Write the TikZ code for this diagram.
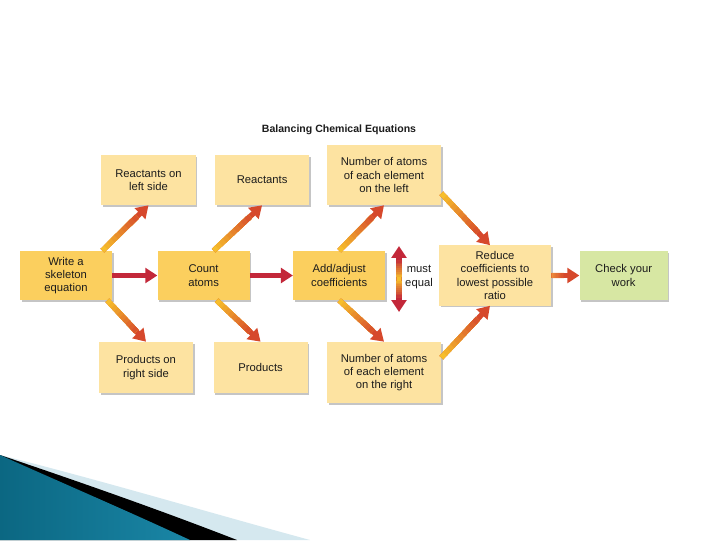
\documentclass[tikz,border=0pt]{standalone}
\usepackage{fontspec}
\setmainfont{Liberation Sans}
\usetikzlibrary{positioning, calc, arrows.meta, shadows}

\definecolor{boxlight}{HTML}{FDE3A1}
\definecolor{boxdark}{HTML}{FBCF5E}
\definecolor{boxgreen}{HTML}{D7E7A3}
\definecolor{arrowred}{HTML}{C3283A}
\definecolor{gyellow}{HTML}{F6BE2C}
\definecolor{gred}{HTML}{D6482C}
\definecolor{gorange}{HTML}{EC8A3A}
\definecolor{tealdark}{HTML}{0B6782}
\definecolor{teallight}{HTML}{48AECD}
\definecolor{tealmid}{HTML}{1A86A6}
\definecolor{paleblue}{HTML}{D5E8EF}
\definecolor{inktext}{HTML}{1C1C1C}

% gradient arrow: [fraction]{from}{to}{start colour}{end colour}
\newcommand{\gradarrow}[5][0.75]{%
  \draw[garrow, #5] (#2) -- (#3);
  \foreach \i in {0,...,9}{%
    \pgfmathtruncatemacro{\pct}{100*\i/10}
    \pgfmathsetmacro{\fa}{\i*#1/10}
    \draw[gline, #5!\pct!#4] ($(#2)!\fa!(#3)$) -- ($(#2)!#1!(#3)$);
  }%
}

\begin{document}
\begin{tikzpicture}[x=0.025cm, y=-0.025cm]
    % Define the styles
    \tikzset{
        box/.style={rectangle, fill=boxlight, text=inktext, align=center, inner sep=1pt,
            minimum width=2.35cm, minimum height=1.25cm, font=\fontsize{8}{9.5}\selectfont,
            drop shadow={shadow xshift=1.2pt, shadow yshift=-1.2pt, fill=black!45, opacity=.5}},
        mainbox/.style={box, fill=boxdark, minimum width=2.3cm, minimum height=1.225cm},
        bigbox/.style={box, minimum width=2.85cm, minimum height=1.5cm},
        garrow/.style={line width=3.8pt, -{Triangle[length=8.5pt, width=10.5pt]}},
        gline/.style={line width=3.8pt},
        redarrow/.style={draw=arrowred, line width=3.5pt, -{Triangle[length=8.5pt, width=10.5pt]}}
    }
    \useasboundingbox (0,0) rectangle (720,540);
    \fill[white] (0,0) rectangle (720,540);

    % Corner swoosh
    \fill[paleblue] (0,455) .. controls (100,480) and (200,510) .. (310,540) -- (0,540) -- cycle;
    \fill[black] (0,455) .. controls (80,482) and (160,510) .. (237,540) -- (0,540) -- cycle;
    \shade[left color=tealdark, middle color=teallight, right color=tealmid]
        (0,455) .. controls (60,482) and (130,512) .. (190,540) -- (0,540) -- cycle;

    % Title
    \node[font=\bfseries\fontsize{7.5}{9}\selectfont, text=inktext] (ttl) at (339,130) {Balancing Chemical Equations};

    % Main row
    \node[mainbox] (wsk) at (66,275.5) {Write a\\skeleton\\equation};
    \node[mainbox, right=1.125cm of wsk] (cnt) {Count\\atoms};
    \node[mainbox, right=1.075cm of cnt] (adj) {Add/adjust\\coefficients};
    \node[bigbox, minimum width=2.8cm] (red) at (495,275.5) {Reduce\\coefficients to\\lowest possible\\ratio};
    \node[mainbox, fill=boxgreen, minimum width=2.2cm, right=0.7cm of red] (chk) {Check your\\work};

    % Upper and lower boxes
    \node[box] (rl) at (148.5,180) {Reactants on\\left side};
    \node[box, right=0.475cm of rl] (rea) {Reactants};
    \node[bigbox] (nl) at (384,175) {Number of atoms\\of each element\\on the left};
    \node[box, minimum height=1.275cm] (pr) at (146,367.5) {Products on\\right side};
    \node[box, minimum height=1.275cm, right=0.5cm of pr] (pro) {Products};
    \node[bigbox, minimum height=1.525cm] (nr) at (384,372.5) {Number of atoms\\of each element\\on the right};

    \node[text=inktext, font=\fontsize{8}{9.5}\selectfont, align=center] (meq) at (419,277) {must\\equal};

    % Arrows
    \draw[redarrow] (wsk.east) -- (cnt.west);
    \draw[redarrow] (cnt.east) -- (adj.west);

    \gradarrow{$(wsk.north east)+(-10,0)$}{rl.south}{gyellow}{gred}
    \gradarrow{$(wsk.south east)+(-5,0)$}{pr.north}{gyellow}{gred}
    \gradarrow{$(cnt.north)+(10,0)$}{rea.south}{gyellow}{gred}
    \gradarrow{$(cnt.south)+(13,0)$}{pro.north}{gyellow}{gred}
    \gradarrow{adj.north}{nl.south}{gyellow}{gred}
    \gradarrow{adj.south}{nr.north}{gyellow}{gred}
    \gradarrow{$(nl.south east)+(0,-12)$}{$(red.north)+(-5,0)$}{gyellow}{gred}
    \gradarrow{$(nr.north east)+(0,16)$}{$(red.south)+(-5,0)$}{gyellow}{gred}
    \gradarrow[0.45]{red.east}{chk.west}{gorange}{gred}

    % Double arrow between the counts
    \coordinate (eqtop) at (399,246);
    \coordinate (eqbot) at (399,312);
    \coordinate (eqmid) at (399,279);
    \gradarrow[0.55]{eqmid}{eqtop}{gyellow}{arrowred}
    \gradarrow[0.55]{eqmid}{eqbot}{gyellow}{arrowred}
\end{tikzpicture}
\end{document}
